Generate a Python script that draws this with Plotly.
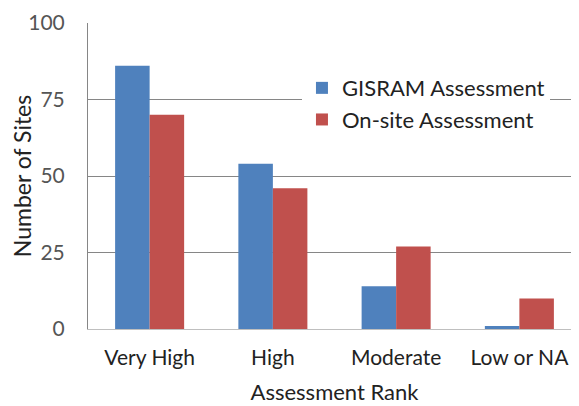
import plotly.graph_objects as go

categories = ["Very High", "High", "Moderate", "Low or NA"]
gisram = [86, 54, 14, 1]
onsite = [70, 46, 27, 10]
y_ticks = [0, 25, 50, 75, 100]

FONT = "Lato, 'Open Sans', sans-serif"

fig = go.Figure()
fig.add_trace(go.Bar(x=categories, y=gisram, name="GISRAM Assessment",
                     marker=dict(color="#4F81BD", line=dict(width=0))))
fig.add_trace(go.Bar(x=categories, y=onsite, name="On-site Assessment",
                     marker=dict(color="#C0504D", line=dict(width=0))))

fig.update_layout(
    width=579, height=406,
    margin=dict(l=80, r=6, t=15, b=85, autoexpand=False),
    paper_bgcolor="white", plot_bgcolor="white",
    barmode="group", bargap=0.44, bargroupgap=0,
    font=dict(family=FONT, size=21, color="#222222"),
    legend=dict(x=0.434, y=0.856, xanchor="left", yanchor="top",
                bgcolor="white", font=dict(size=22, family=FONT, color="#222222"),
                tracegroupgap=0, itemwidth=30),
    xaxis=dict(showline=True, linecolor="#BFBFBF", linewidth=1, automargin=True,
               ticks="", tickfont=dict(size=21), ticklabelstandoff=10,
               title=dict(text="Assessment Rank", font=dict(size=22), standoff=16)),
    yaxis=dict(range=[0, 100], tickvals=y_ticks, showgrid=True, automargin=True,
               gridcolor="#868686", gridwidth=1,
               showline=True, linecolor="#868686", linewidth=1,
               zeroline=False, ticks="", ticklen=0, ticklabelstandoff=18,
               tickfont=dict(size=21, color="#555555"),
               title=dict(text="Number of Sites", font=dict(size=23), standoff=12)),
)

fig.write_html("out.html")
